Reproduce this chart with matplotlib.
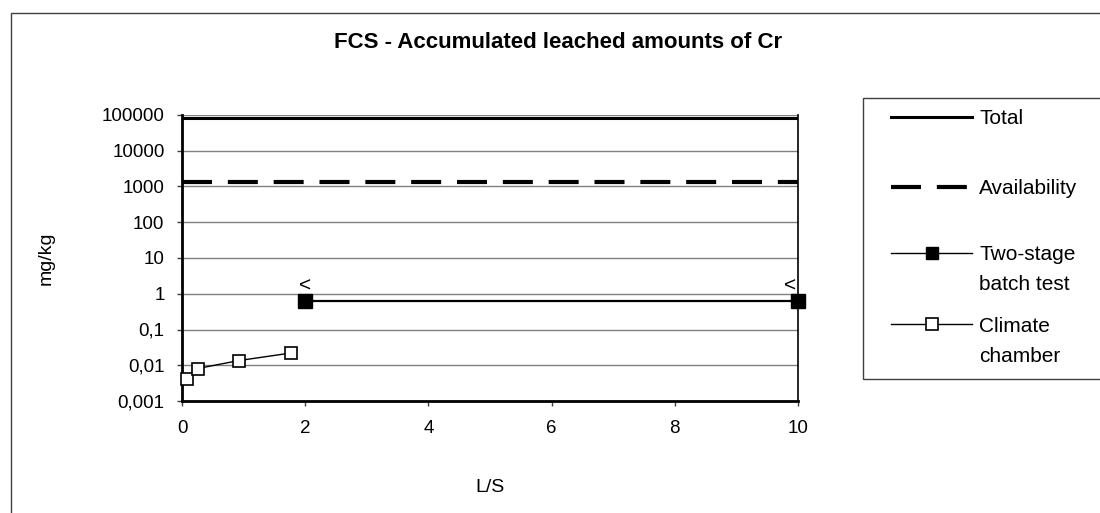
import matplotlib.pyplot as plt
from matplotlib.lines import Line2D
from matplotlib.patches import Rectangle

plt.rcParams['font.family'] = ['Liberation Sans', 'DejaVu Sans']

# accumulated leached Cr (mg/kg) against L/S
limit_ls = [0, 10]
total = [82000, 82000]
availability = [1300, 1300]

batch_ls = [2, 10]
batch = [0.63, 0.63]
batch_flags = ['<', '<']

climate_ls = [0.085, 0.255, 0.92, 1.77]
climate = [0.0041, 0.0081, 0.0135, 0.022]

y_ticks = [0.001, 0.01, 0.1, 1, 10, 100, 1000, 10000, 100000]
y_tick_labels = ['0,001', '0,01', '0,1', '1', '10', '100', '1000', '10000', '100000']
x_ticks = [0, 2, 4, 6, 8, 10]

W, H = 1100, 513
fig = plt.figure(figsize=(W / 100, H / 100), dpi=100)

def fx(px):
    return px / W

def fy(py):
    return 1 - py / H

# chart area border (runs off the right and bottom edges)
fig.add_artist(Rectangle((fx(10.5), fy(600)), 2, fy(13) - fy(600),
                         transform=fig.transFigure, fill=False,
                         edgecolor='#404040', lw=1))

ax = fig.add_axes([fx(182), fy(401), fx(798) - fx(182), fy(115) - fy(401)])

ax.plot(limit_ls, total, color='black', lw=2.2, solid_capstyle='butt', zorder=3)
ax.plot(limit_ls, availability, color='black', lw=3, dashes=(7.2, 3.8), zorder=3)
ax.plot(batch_ls, batch, color='black', lw=1.6, marker='s', markersize=10,
        markerfacecolor='black', clip_on=False, zorder=4)
ax.plot(climate_ls, climate, color='black', lw=1, marker='s', markersize=9,
        markerfacecolor='white', markeredgewidth=1.2, clip_on=False, zorder=4)

flag_offsets = [(0, 7), (-6, 7)]
for x, y, s, off in zip(batch_ls, batch, batch_flags, flag_offsets):
    ax.annotate(s, (x, y), xytext=off, textcoords='offset points',
                ha='center', va='baseline', fontsize=15, annotation_clip=False)

ax.set_yscale('log')
ax.set_ylim(0.001, 100000)
ax.set_xlim(0, 10)
ax.set_yticks(y_ticks)
ax.set_yticklabels(y_tick_labels)
ax.minorticks_off()
ax.set_xticks(x_ticks)
ax.tick_params(axis='both', labelsize=13.5, direction='out', length=3.6,
               color='#404040', width=1)
ax.tick_params(axis='x', pad=10)
ax.tick_params(axis='y', pad=9)

ax.grid(axis='y', color='#808080', lw=1)
ax.set_axisbelow(True)
for side in ['left', 'bottom']:
    ax.spines[side].set_linewidth(2)
    ax.spines[side].set_color('black')
ax.spines['right'].set_linewidth(1.2)
ax.spines['right'].set_color('black')
ax.spines['top'].set_visible(False)

fig.text(fx(558), fy(48.5), 'FCS - Accumulated leached amounts of Cr',
         ha='center', va='baseline', fontsize=16, fontweight='bold')
fig.text(fx(46), fy(258), 'mg/kg', rotation=90, ha='center', va='center',
         fontsize=14)
fig.text(fx(490), fy(487), 'L/S', ha='center', va='center', fontsize=14)

# legend box
fig.add_artist(Rectangle((fx(863), fy(379)), 1, fy(98) - fy(379),
                         transform=fig.transFigure, fill=False,
                         edgecolor='#404040', lw=1))
legend_rows = [
    (['Total'], dict(color='black', lw=2.2), 117),
    (['Availability'], dict(color='black', lw=3, dashes=(7.2, 3.8)), 187),
    (['Two-stage', 'batch test'], dict(color='black', lw=1, marker='s', markersize=8.5,
                                       markerfacecolor='black'), 253),
    (['Climate', 'chamber'], dict(color='black', lw=1, marker='s', markersize=8.5,
                                  markerfacecolor='white', markeredgewidth=1.2), 324),
]
for lines, style, y in legend_rows:
    fig.add_artist(Line2D([fx(891), fx(972)], [fy(y), fy(y)],
                          transform=fig.transFigure, markevery=[], **style))
    if 'marker' in style:
        fig.add_artist(Line2D([fx(931.5)], [fy(y)], transform=fig.transFigure,
                              linestyle='none', **{k: v for k, v in style.items()
                                                   if k != 'lw'}))
    # first text line sits level with the handle, the next one below it
    for i, text in enumerate(lines):
        fig.text(fx(979), fy(y + 7.5 + 30 * i), text, ha='left', va='baseline',
                 fontsize=15)

fig.savefig('out.png', dpi=100)
